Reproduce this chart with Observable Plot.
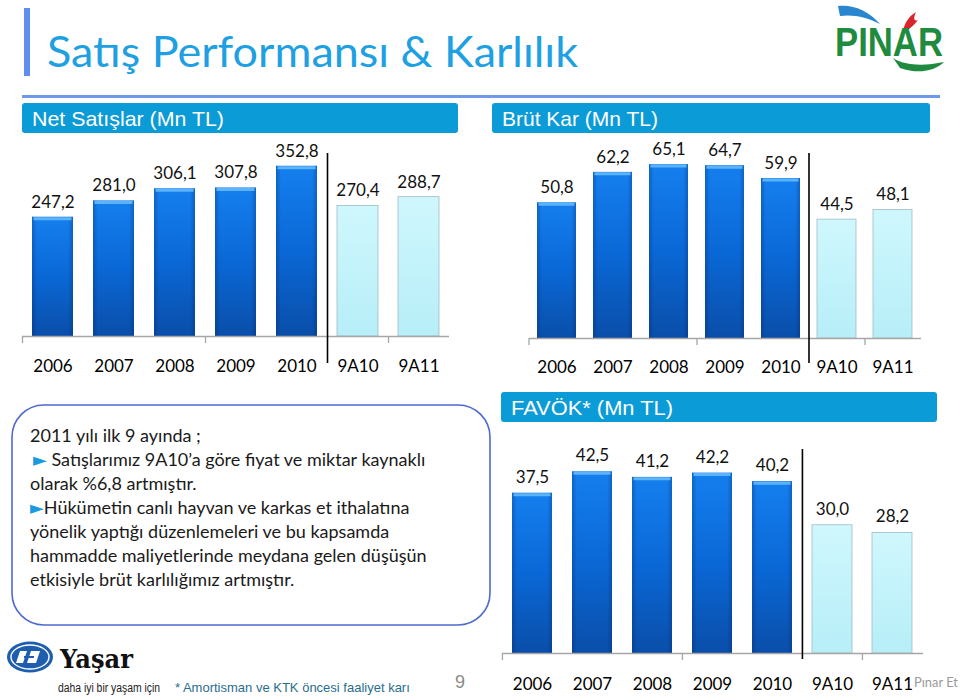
<!DOCTYPE html>
<html>
<head>
<meta charset="utf-8">
<script src="https://cdn.jsdelivr.net/npm/d3@7"></script>
<script src="https://cdn.jsdelivr.net/npm/@observablehq/plot@0.6"></script>
<style>
  body { margin: 0; background: #fff; }
  #page { position: relative; width: 960px; height: 700px; overflow: hidden; background: #fff; }
  .chart { position: absolute; }
  #decor { position: absolute; left: 0; top: 0; pointer-events: none; }
</style>
</head>
<body>
<div id="page">
  <svg width="0" height="0" style="position:absolute">
    <defs>
      <linearGradient id="gradDark" x1="0" y1="0" x2="0" y2="1">
        <stop offset="0" stop-color="#157fee"/>
        <stop offset="0.5" stop-color="#0a68d6"/>
        <stop offset="1" stop-color="#0a4ea9"/>
      </linearGradient>
      <linearGradient id="gradSide" x1="0" y1="0" x2="1" y2="0">
        <stop offset="0" stop-color="#00205a" stop-opacity="0.28"/>
        <stop offset="0.12" stop-color="#00205a" stop-opacity="0"/>
        <stop offset="0.88" stop-color="#00205a" stop-opacity="0"/>
        <stop offset="1" stop-color="#00205a" stop-opacity="0.28"/>
      </linearGradient>
      <linearGradient id="gradLight" x1="0" y1="0" x2="0" y2="1">
        <stop offset="0" stop-color="#cff7fd"/>
        <stop offset="1" stop-color="#b7eef8"/>
      </linearGradient>
    </defs>
  </svg>
  <div id="c1" class="chart" style="left:0px;top:137px"></div>
  <div id="c2" class="chart" style="left:480px;top:137px"></div>
  <div id="c3" class="chart" style="left:480px;top:425px"></div>
  <svg id="decor" width="960" height="700">
    <!-- title -->
    <rect x="24" y="8" width="6" height="68" fill="#5f8fec"/>
    <text x="47" y="67" font-family="Lato, sans-serif" font-weight="400" font-size="42" fill="#1ea0e2" textLength="531" lengthAdjust="spacingAndGlyphs">Satış Performansı &amp; Karlılık</text>
    <rect x="22" y="95" width="918" height="3" fill="#6f98ea"/>
    <!-- headers -->
    <rect x="22" y="103" width="436" height="30" rx="3" fill="#0b9bd7"/>
    <text x="32" y="125.5" font-family="'Liberation Sans', Arial, sans-serif" font-size="21" fill="#fff" textLength="192" lengthAdjust="spacingAndGlyphs">Net Satışlar (Mn TL)</text>
    <rect x="492" y="103" width="438" height="30" rx="3" fill="#0b9bd7"/>
    <text x="502" y="125.5" font-family="'Liberation Sans', Arial, sans-serif" font-size="21" fill="#fff">Brüt Kar (Mn TL)</text>
    <rect x="501" y="392" width="436" height="30" rx="3" fill="#0b9bd7"/>
    <text x="511" y="414.5" font-family="'Liberation Sans', Arial, sans-serif" font-size="21" fill="#fff" textLength="162" lengthAdjust="spacingAndGlyphs">FAVÖK* (Mn TL)</text>
    <!-- comment box -->
    <rect x="12" y="405" width="478" height="220" rx="32" fill="none" stroke="#4e6acf" stroke-width="1.6"/>
    <g font-family="Lato, sans-serif" font-size="18" fill="#1a1a1a">
      <text x="30" y="442">2011 yılı ilk 9 ayında ;</text>
      <text x="33" y="466"><tspan fill="#1a9be0" font-family="'DejaVu Sans'" font-size="18">►</tspan> <tspan>Satışlarımız 9A10’a göre fiyat ve miktar kaynaklı</tspan></text>
      <text x="30" y="490">olarak %6,8 artmıştır.</text>
      <text x="30" y="514"><tspan fill="#1a9be0" font-family="'DejaVu Sans'" font-size="18">►</tspan>Hükümetin canlı hayvan ve karkas et ithalatına</text>
      <text x="30" y="538">yönelik yaptığı düzenlemeleri ve bu kapsamda</text>
      <text x="30" y="562">hammadde maliyetlerinde meydana gelen düşüşün</text>
      <text x="30" y="586">etkisiyle brüt karlılığımız artmıştır.</text>
    </g>
    <!-- PINAR logo -->
    <path d="M838,6 C852,4 868,10 880,24 C868,17 852,14 840,16 Z" fill="#2a86cf"/>
    <path d="M903,32 C904,24 908,17 916,12 C913,18 914,22 918,20 C913,26 909,30 903,32 Z" fill="#d8262c"/>
    <text x="835" y="56" font-family="'Liberation Sans', Arial, sans-serif" font-weight="bold" font-size="40" fill="#1f8b3e" textLength="108" lengthAdjust="spacingAndGlyphs">PINAR</text>
    <path d="M893,58 C905,66 925,66 944,62 C936,70 920,75 900,68 Z" fill="#1f8b3e"/>
    <!-- Yasar logo -->
    <ellipse cx="30" cy="657" rx="23" ry="15.5" fill="#1d5fae"/>
    <ellipse cx="30" cy="657" rx="19" ry="12" fill="none" stroke="#fff" stroke-width="1.4"/>
    <path d="M20,651 L27,651 L23,663 L16,663 Z M31,651 L40,651 L36,663 L27,663 Z" fill="#fff"/>
    <path d="M24,657 L34,657" stroke="#1d5fae" stroke-width="2"/>
    <text x="60" y="668" font-family="'DejaVu Serif', serif" font-weight="bold" font-size="26" fill="#111" textLength="73" lengthAdjust="spacingAndGlyphs">Yaşar</text>
    <text x="58" y="692" font-family="'Liberation Sans', Arial, sans-serif" font-size="12" fill="#222" textLength="102" lengthAdjust="spacingAndGlyphs">daha iyi bir yaşam için</text>
    <text x="175" y="692" font-family="'Liberation Sans', Arial, sans-serif" font-size="13" fill="#2a6d8c">* Amortisman ve KTK öncesi faaliyet karı</text>
    <text x="455" y="688" font-family="'Liberation Sans', Arial, sans-serif" font-size="18" fill="#8a8a8a">9</text>
    <text x="914" y="687" font-family="Lato, sans-serif" font-size="13" fill="#9a9a9a" textLength="44" lengthAdjust="spacingAndGlyphs">Pınar Et</text>
  </svg>
</div>
<script>
// ---- data ----
const categories = ["2006", "2007", "2008", "2009", "2010", "9A10", "9A11"];
const periodType = ["yıl", "yıl", "yıl", "yıl", "yıl", "9 ay", "9 ay"];
const netSatislar = [247.2, 281.0, 306.1, 307.8, 352.8, 270.4, 288.7];
const brutKar = [50.8, 62.2, 65.1, 64.7, 59.9, 44.5, 48.1];
const favok = [37.5, 42.5, 41.2, 42.2, 40.2, 30.0, 28.2];
const tickEvery = 3;            // Excel draws an axis tick every 3 categories
const separatorBefore = "9A10"; // vertical line between full years and 9-month periods

const fmt = v => v.toFixed(1).replace(".", ",");

function barChart(values, o) {
  const data = categories.map((c, i) => ({cat: c, value: values[i], type: periodType[i]}));
  const years = data.filter(d => d.type === "yıl");
  const partial = data.filter(d => d.type !== "yıl");
  const plotW = o.width - o.marginLeft - o.marginRight;
  const step = plotW / categories.length;
  const ymax = (o.height - o.marginTop - o.marginBottom) / o.pxPerUnit;
  const tickCats = categories.filter((d, i) => i % tickEvery === 0);
  return Plot.plot({
    width: o.width, height: o.height,
    marginLeft: o.marginLeft, marginRight: o.marginRight,
    marginTop: o.marginTop, marginBottom: o.marginBottom,
    style: {background: "transparent", fontFamily: "Lato, sans-serif", fontSize: "17px", color: "#000", overflow: "visible"},
    x: {type: "band", domain: categories, paddingInner: o.padding, paddingOuter: o.padding / 2, axis: null, label: null},
    y: {domain: [0, ymax], axis: null},
    marks: [
      Plot.barY(years, {x: "cat", y: "value", fill: "url(#gradDark)"}),
      Plot.barY(years, {x: "cat", y: "value", fill: "url(#gradSide)"}),
      Plot.tickY(years, {x: "cat", y: "value", stroke: "#5cb3f7", strokeWidth: 3, dy: 1.5, insetLeft: 1.5, insetRight: 1.5}),
      Plot.barY(partial, {x: "cat", y: "value", fill: "url(#gradLight)", stroke: "#9dbcc6", strokeWidth: 0.8}),
      Plot.ruleY([0], {stroke: "#a6a6a6", strokeWidth: 1.3}),
      Plot.ruleX(tickCats, {x: d => d, dx: -step / 2, y1: 0, y2: 0, insetBottom: -7, stroke: "#a6a6a6", strokeWidth: 1.3}),
      Plot.ruleX([separatorBefore], {x: d => d, dx: -step / 2, insetTop: o.sepTop, insetBottom: o.sepBottom, stroke: "#000", strokeWidth: 1.6}),
      Plot.text(data, {x: "cat", y: "value", text: d => fmt(d.value), dy: o.labelDy, fontSize: 17, fill: "#111"}),
      Plot.axisX({tickSize: 0, tickPadding: o.axisPad, fontSize: 17, fill: "#000", label: null})
    ]
  });
}

document.getElementById("c1").append(barChart(netSatislar, {
  width: 470, height: 245, marginLeft: 22, marginRight: 21, marginTop: 20, marginBottom: 46,
  pxPerUnit: 0.4826, padding: 0.33, labelDy: -15, axisPad: 23, sepTop: -4, sepBottom: -27
}));
document.getElementById("c2").append(barChart(brutKar, {
  width: 470, height: 245, marginLeft: 49, marginRight: 29, marginTop: 20, marginBottom: 44,
  pxPerUnit: 2.671, padding: 0.30, labelDy: -15, axisPad: 22, sepTop: -4, sepBottom: -25
}));
document.getElementById("c3").append(barChart(favok, {
  width: 470, height: 275, marginLeft: 22, marginRight: 27, marginTop: 20, marginBottom: 47,
  pxPerUnit: 4.275, padding: 0.33, labelDy: -16, axisPad: 24, sepTop: 4, sepBottom: -6
}));
</script>
</body>
</html>
